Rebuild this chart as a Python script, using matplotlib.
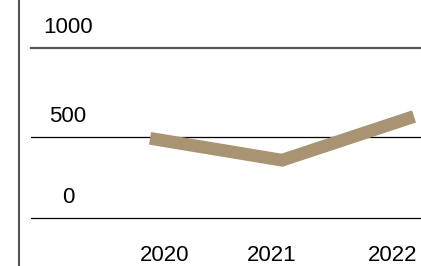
import matplotlib
matplotlib.use("Agg")
from matplotlib import pyplot as plt
from matplotlib.lines import Line2D

years = [2020, 2021, 2022]
values = [490, 355, 625]
y_ticks = [0, 500, 1000]

W, H = 421, 266
plt.rcParams['font.family'] = ['Liberation Sans', 'DejaVu Sans']

fig = plt.figure(figsize=(W / 100, H / 100), dpi=100)
# axes top edge doubles as the 1000 rule
ax = fig.add_axes([31 / W, 0, 1 - 31 / W, (H - 47.7) / H])
ax.set_xlim(2019.098, 2022.053)
ax.set_ylim(-298.1, 1049.5)
ax.axis("off")

# rules for the ticks (top one is drawn at the axes edge)
for t in y_ticks[:-1]:
    ax.axhline(t, color="black", lw=0.9)
ax.plot([0, 1], [1, 1], transform=ax.transAxes, color="#555555", lw=1.6, clip_on=False)

ax.plot(years, values, color="#a89473", lw=9.2, solid_capstyle="butt",
        solid_joinstyle="miter", clip_on=False)

# y labels sit above their rule
for t in y_ticks:
    if t == y_ticks[-1]:
        xy, coords = (0, 1), ax.transAxes
    else:
        xy, coords = (0, t), ax.get_yaxis_transform()
    ax.annotate(str(t), xy=xy, xycoords=coords, xytext=(37, 14.5),
                textcoords="offset pixels", ha="center", va="baseline",
                fontsize=16, annotation_clip=False)

# year labels along the bottom
offsets = [15, -10, -21]
for yr, dx in zip(years, offsets):
    ax.annotate(str(yr), xy=(yr, 0), xycoords=ax.get_xaxis_transform(),
                xytext=(dx, 5), textcoords="offset pixels", ha="center",
                va="baseline", fontsize=16, annotation_clip=False)

fig.add_artist(Line2D([19 / W, 19 / W], [0, 1], color="#555555", lw=1.5))

fig.savefig("out.png", dpi=100)
